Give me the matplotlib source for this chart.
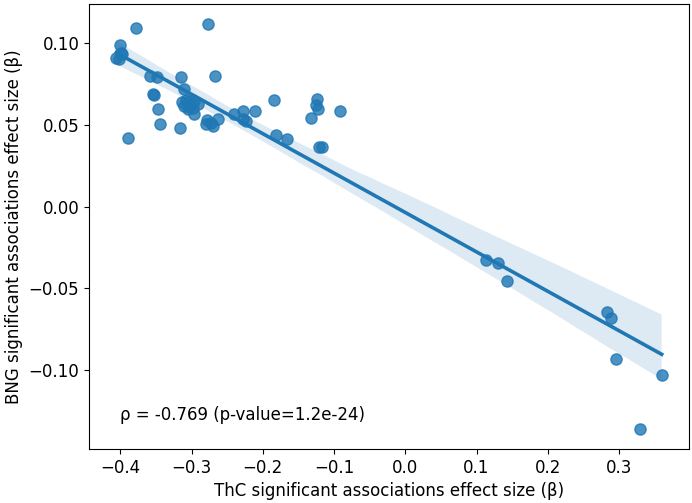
import numpy as np
import matplotlib
matplotlib.use("Agg")
import matplotlib.pyplot as plt
import seaborn as sns

# effect sizes
thc_beta = [
    -0.3776, -0.2772, -0.401, -0.3986, -0.4056, -0.4020, -0.3970,
    -0.3576, -0.348, -0.3142, -0.2666, -0.3534, -0.3520, -0.310,
    -0.3464, -0.3436, -0.3892, -0.3164,
    -0.3132, -0.3076, -0.303, -0.296, -0.2912, -0.310, -0.303, -0.298, -0.3052,
    -0.296, -0.2782, -0.2796, -0.2702, -0.2632, -0.2726,
    -0.2408, -0.2274, -0.211, -0.2236, -0.2282,
    -0.184, -0.1812, -0.1662,
    -0.1242, -0.1256, -0.1224, -0.1326, -0.0916, -0.121, -0.1163,
    0.1133, 0.1296, 0.1428, 0.2828, 0.2893, 0.2954, 0.3598, 0.3294,
]
bng_beta = [
    0.1095, 0.112, 0.0988, 0.0943, 0.0912, 0.0902, 0.0933,
    0.080, 0.0794, 0.0796, 0.080, 0.0689, 0.0685, 0.0723,
    0.0597, 0.0509, 0.0418, 0.0483,
    0.0642, 0.0652, 0.0648, 0.0648, 0.0628, 0.0617, 0.0611, 0.0607, 0.0597,
    0.0567, 0.0532, 0.0505, 0.0495, 0.0536, 0.0515,
    0.0567, 0.0587, 0.0587, 0.0526, 0.0536,
    0.0656, 0.044, 0.0414,
    0.0662, 0.0622, 0.0601, 0.0546, 0.0587, 0.0367, 0.0367,
    -0.0325, -0.0343, -0.0455, -0.0648, -0.0679, -0.0935, -0.1031, -0.1361,
]
rho_text = "ρ = -0.769 (p-value=1.2e-24)"

fig = plt.figure(figsize=(6.92, 5.03), dpi=100)
ax = fig.add_axes([0.1286, 0.107, 0.867, 0.886])

sns.regplot(x=np.array(thc_beta), y=np.array(bng_beta), ax=ax,
            color="#1f77b4", seed=0,
            scatter_kws={"s": 65}, line_kws={"lw": 2.6})

ax.text(-0.4, -0.1275, rho_text, fontsize=12, va="center", ha="left")

ax.set_xlabel("ThC significant associations effect size (β)", fontsize=12)
ax.set_ylabel("BNG significant associations effect size (β)", fontsize=12)
ax.tick_params(labelsize=12)

fig.savefig("out.png", dpi=100)
